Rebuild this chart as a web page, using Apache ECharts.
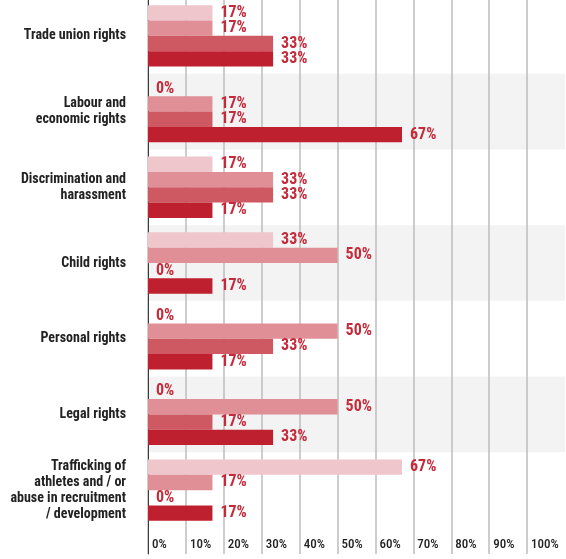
<!DOCTYPE html>
<html>
<head>
<meta charset="utf-8">
<script src="https://cdn.jsdelivr.net/npm/echarts@6/dist/echarts.min.js"></script>
<style>
  html, body { margin: 0; padding: 0; background: #ffffff; }
  #chart { width: 566px; height: 559px; }
</style>
</head>
<body>
<div id="chart"></div>
<script>
// Rights categories, top to bottom
const categories = [
  'Trade union rights',
  'Labour and\neconomic rights',
  'Discrimination and\nharassment',
  'Child rights',
  'Personal rights',
  'Legal rights',
  'Trafficking of\nathletes and / or\nabuse in recruitment\n/ development'
];

// Share of responses (%) for each of the four groups, per category
const groupA = [17, 0, 17, 33, 0, 0, 67];
const groupB = [17, 17, 33, 50, 50, 50, 17];
const groupC = [33, 17, 33, 0, 33, 17, 0];
const groupD = [33, 67, 17, 17, 17, 33, 17];

// Percentage scale ticks
const tickStep = 10;
const tickMax = 110;

const FONT = '"Roboto Condensed", "Open Sans Condensed", "DejaVu Sans Condensed", sans-serif';
const colors = ['#efc6cb', '#df8f95', '#cf5963', '#bf202f'];
const gridLineStyle = { color: '#bdbdbd', width: 1.5 };

function barSeries(name, values, color) {
  return {
    name: name,
    type: 'bar',
    xAxisIndex: 0,
    yAxisIndex: 0,
    data: values,
    barGap: '0%',
    barCategoryGap: '19%',
    itemStyle: { color: color },
    label: {
      show: true,
      position: 'right',
      distance: 8,
      formatter: '{c}%',
      color: '#c42a3a',
      fontFamily: FONT,
      fontSize: 16,
      fontWeight: 'bold'
    }
  };
}

const chart = echarts.init(document.getElementById('chart'), null, { renderer: 'canvas' });
chart.setOption({
  animation: false,
  backgroundColor: '#ffffff',
  grid: [
    { left: 148, right: 1, top: -2, height: 530, containLabel: false, outerBoundsMode: 'none' },
    { left: 148, right: 1, top: 528, height: 26, containLabel: false, outerBoundsMode: 'none' }
  ],
  xAxis: [
    {
      gridIndex: 0,
      type: 'value',
      min: 0,
      max: tickMax,
      interval: tickStep,
      axisLine: { show: false },
      axisTick: { show: false },
      axisLabel: { show: false },
      splitLine: { show: true, showMaxLine: false, lineStyle: gridLineStyle }
    },
    {
      gridIndex: 1,
      type: 'value',
      position: 'bottom',
      min: 0,
      max: tickMax,
      interval: tickStep,
      axisLine: { show: false },
      axisTick: { show: false },
      axisLabel: {
        show: true,
        inside: true,
        margin: 3,
        showMaxLabel: false,
        align: 'left',
        padding: [0, 0, 0, 4],
        formatter: '{value}%',
        color: '#222222',
        fontFamily: FONT,
        fontWeight: 500,
        fontSize: 13
      },
      splitLine: { show: true, showMaxLine: false, lineStyle: gridLineStyle }
    }
  ],
  yAxis: [
    {
      gridIndex: 0,
      type: 'category',
      inverse: true,
      data: categories,
      axisLine: { show: true, lineStyle: { color: '#3a3a3a', width: 1 } },
      axisTick: { show: false },
      axisLabel: {
        margin: 22,
        color: '#222222',
        fontFamily: FONT,
        fontWeight: 'bold',
        fontSize: 14,
        lineHeight: 16,
        align: 'right'
      },
      splitArea: { show: true, areaStyle: { color: ['rgba(255,255,255,0)', '#f3f3f3'] } },
      splitLine: { show: false }
    },
    {
      gridIndex: 1,
      type: 'category',
      data: [''],
      axisLine: { show: true, lineStyle: { color: '#3a3a3a', width: 1 } },
      axisTick: { show: false },
      axisLabel: { show: false },
      splitLine: { show: false }
    }
  ],
  series: [
    barSeries('Group A', groupA, colors[0]),
    barSeries('Group B', groupB, colors[1]),
    barSeries('Group C', groupC, colors[2]),
    barSeries('Group D', groupD, colors[3])
  ]
});
</script>
</body>
</html>
